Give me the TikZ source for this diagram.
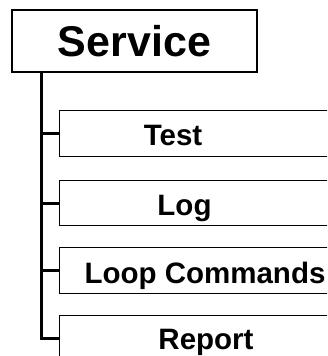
\documentclass[tikz,border=0pt]{standalone}
\usepackage{fontspec}
\setmainfont{Liberation Sans}
\usetikzlibrary{positioning}

\tikzset{
  rootbox/.style={draw, line width=1.6pt, minimum width=245pt, minimum height=62pt,
    inner sep=0pt, font=\fontsize{43}{43}\selectfont\bfseries},
  itembox/.style={draw, line width=1.3pt, minimum width=300pt, minimum height=46pt,
    inner sep=0pt, anchor=north west},
  itemtext/.style={anchor=base, inner sep=0pt, font=\fontsize{29.5}{29.5}\selectfont\bfseries},
  tree/.style={line width=3pt}
}

\begin{document}
\begin{tikzpicture}[x=1pt,y=-1pt]
    % cadre
    \useasboundingbox (0,0) rectangle (327,356);
    \clip (0,0) rectangle (327,356);

    % noeud racine
    \node[rootbox] (service) at (134.5,41) {Service};

    % boites des fils
    \node[itembox] (test) at (59,110) {};
    \node[itembox, minimum height=45pt] (log) at (59,180) {};
    \node[itembox] (loop) at (59,247) {};
    \node[itembox] (report) at (59,315) {};

    % textes
    \node[itemtext] (testlbl) at (173,145) {Test};
    \node[itemtext] (loglbl) at (184.5,215) {Log};
    \node[itemtext] (looplbl) at (205,283) {Loop Commands};
    \node[itemtext] (reportlbl) at (206,349) {Report};

    % arbre
    \coordinate (spine) at ([xshift=30pt]service.south west);
    \draw[tree] (spine) |- (report.west);
    \draw[tree] (spine |- test.west) -- (test.west);
    \draw[tree] (spine |- log.west) -- (log.west);
    \draw[tree] (spine |- loop.west) -- (loop.west);

\end{tikzpicture}
\end{document}
